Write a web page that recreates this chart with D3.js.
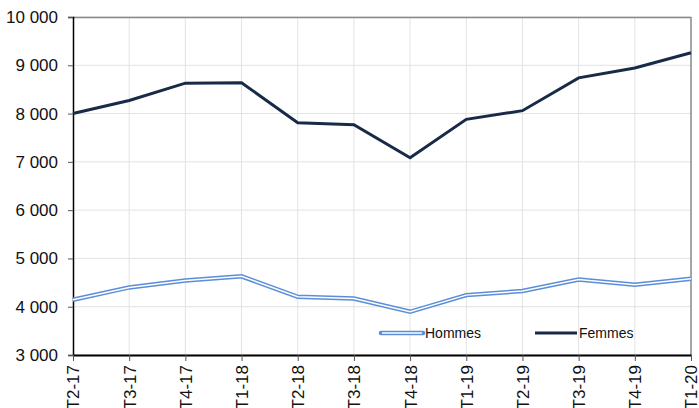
<!DOCTYPE html>
<html><head><meta charset="utf-8">
<script src="https://cdn.jsdelivr.net/npm/d3@7"></script>
<style>body{margin:0;background:#fff}svg{display:block}</style>
</head><body>
<svg id="c" width="699" height="408"></svg>
<script>
const categories = ["T2-17","T3-17","T4-17","T1-18","T2-18","T3-18","T4-18","T1-19","T2-19","T3-19","T4-19","T1-20"];
const femmes = [8000, 8270, 8630, 8640, 7810, 7770, 7085, 7880, 8060, 8740, 8945, 9260];
const hommes = [4145, 4400, 4545, 4630, 4205, 4170, 3895, 4240, 4325, 4565, 4455, 4580];
const yTicks = [3000, 4000, 5000, 6000, 7000, 8000, 9000, 10000];
const seriesNames = ["Hommes", "Femmes"];

const svg = d3.select("#c");
const L = 73, R = 691, T = 17, B = 355;
const x = d3.scalePoint().domain(categories).range([L, R]);
const y = d3.scaleLinear().domain([3000, 10000]).range([B, T]);
const fmtS = v => { const s = String(v); return s.length > 3 ? s.slice(0, -3) + " " + s.slice(-3) : s; };

// grid
svg.append("g").selectAll("line").data(yTicks).join("line")
  .attr("x1", L).attr("x2", R).attr("y1", d => y(d)).attr("y2", d => y(d))
  .attr("stroke", "#e3e3e3").attr("stroke-width", 1);
svg.append("g").selectAll("line").data(categories.slice(1, -1)).join("line")
  .attr("x1", d => x(d)).attr("x2", d => x(d)).attr("y1", T).attr("y2", B)
  .attr("stroke", "#e3e3e3").attr("stroke-width", 1);
// top/right border
svg.append("line").attr("x1", L).attr("x2", R).attr("y1", T + 0.5).attr("y2", T + 0.5).attr("stroke", "#888").attr("stroke-width", 1.5);
svg.append("line").attr("x1", R).attr("x2", R).attr("y1", T).attr("y2", B).attr("stroke", "#888").attr("stroke-width", 1.5);

// axes
const yAxis = d3.axisLeft(y).tickValues(yTicks).tickFormat(fmtS).tickSize(5).tickPadding(10);
const gy = svg.append("g").attr("transform", `translate(${L},0)`).call(yAxis);
gy.select(".domain").attr("stroke", "#000").attr("stroke-width", 1.5);
gy.selectAll(".tick line").attr("stroke", "#555");
gy.selectAll("text").attr("font-family", "Liberation Sans, Arial, sans-serif").attr("font-size", 17).attr("fill", "#111");

const xAxis = d3.axisBottom(x).tickSize(6).tickSizeOuter(0);
const gx = svg.append("g").attr("transform", `translate(0,${B})`).call(xAxis);
gx.select(".domain").attr("stroke", "#000").attr("stroke-width", 2);
gx.selectAll(".tick line").attr("stroke", "#555");
gx.selectAll("text")
  .attr("font-family", "Liberation Sans, Arial, sans-serif").attr("font-size", 17).attr("fill", "#111")
  .attr("transform", "rotate(-90)")
  .attr("text-anchor", "end").attr("dy", "0.35em").attr("x", -10).attr("y", 0);

// lines
const line = d3.line().x((d, i) => x(categories[i])).y(d => y(d));
svg.append("path").datum(hommes).attr("d", line).attr("fill", "none")
  .attr("stroke", "#5b8ed8").attr("stroke-width", 4.5).attr("stroke-linejoin", "miter");
svg.append("path").datum(hommes).attr("d", line).attr("fill", "none")
  .attr("stroke", "#fff").attr("stroke-width", 1.5).attr("stroke-linejoin", "miter");
svg.append("path").datum(femmes).attr("d", line).attr("fill", "none")
  .attr("stroke", "#172a47").attr("stroke-width", 3).attr("stroke-linejoin", "miter");

// legend
const lg = svg.append("g").attr("font-family", "Liberation Sans Narrow, Arial Narrow, Liberation Sans, sans-serif").attr("font-size", 14).attr("fill", "#111");
const lx = [381, 535];
lg.append("line").attr("x1", lx[0]).attr("x2", lx[0] + 42).attr("y1", 333).attr("y2", 333).attr("stroke", "#5b8ed8").attr("stroke-width", 4.5).attr("stroke-linecap", "round");
lg.append("line").attr("x1", lx[0] + 1).attr("x2", lx[0] + 41).attr("y1", 333).attr("y2", 333).attr("stroke", "#fff").attr("stroke-width", 1.5);
lg.append("line").attr("x1", lx[1]).attr("x2", lx[1] + 42).attr("y1", 333).attr("y2", 333).attr("stroke", "#172a47").attr("stroke-width", 3);
lg.append("text").attr("x", lx[0] + 44).attr("y", 333).attr("dy", "0.35em").text(seriesNames[0]);
lg.append("text").attr("x", lx[1] + 44).attr("y", 333).attr("dy", "0.35em").text(seriesNames[1]);
</script>
</body></html>
